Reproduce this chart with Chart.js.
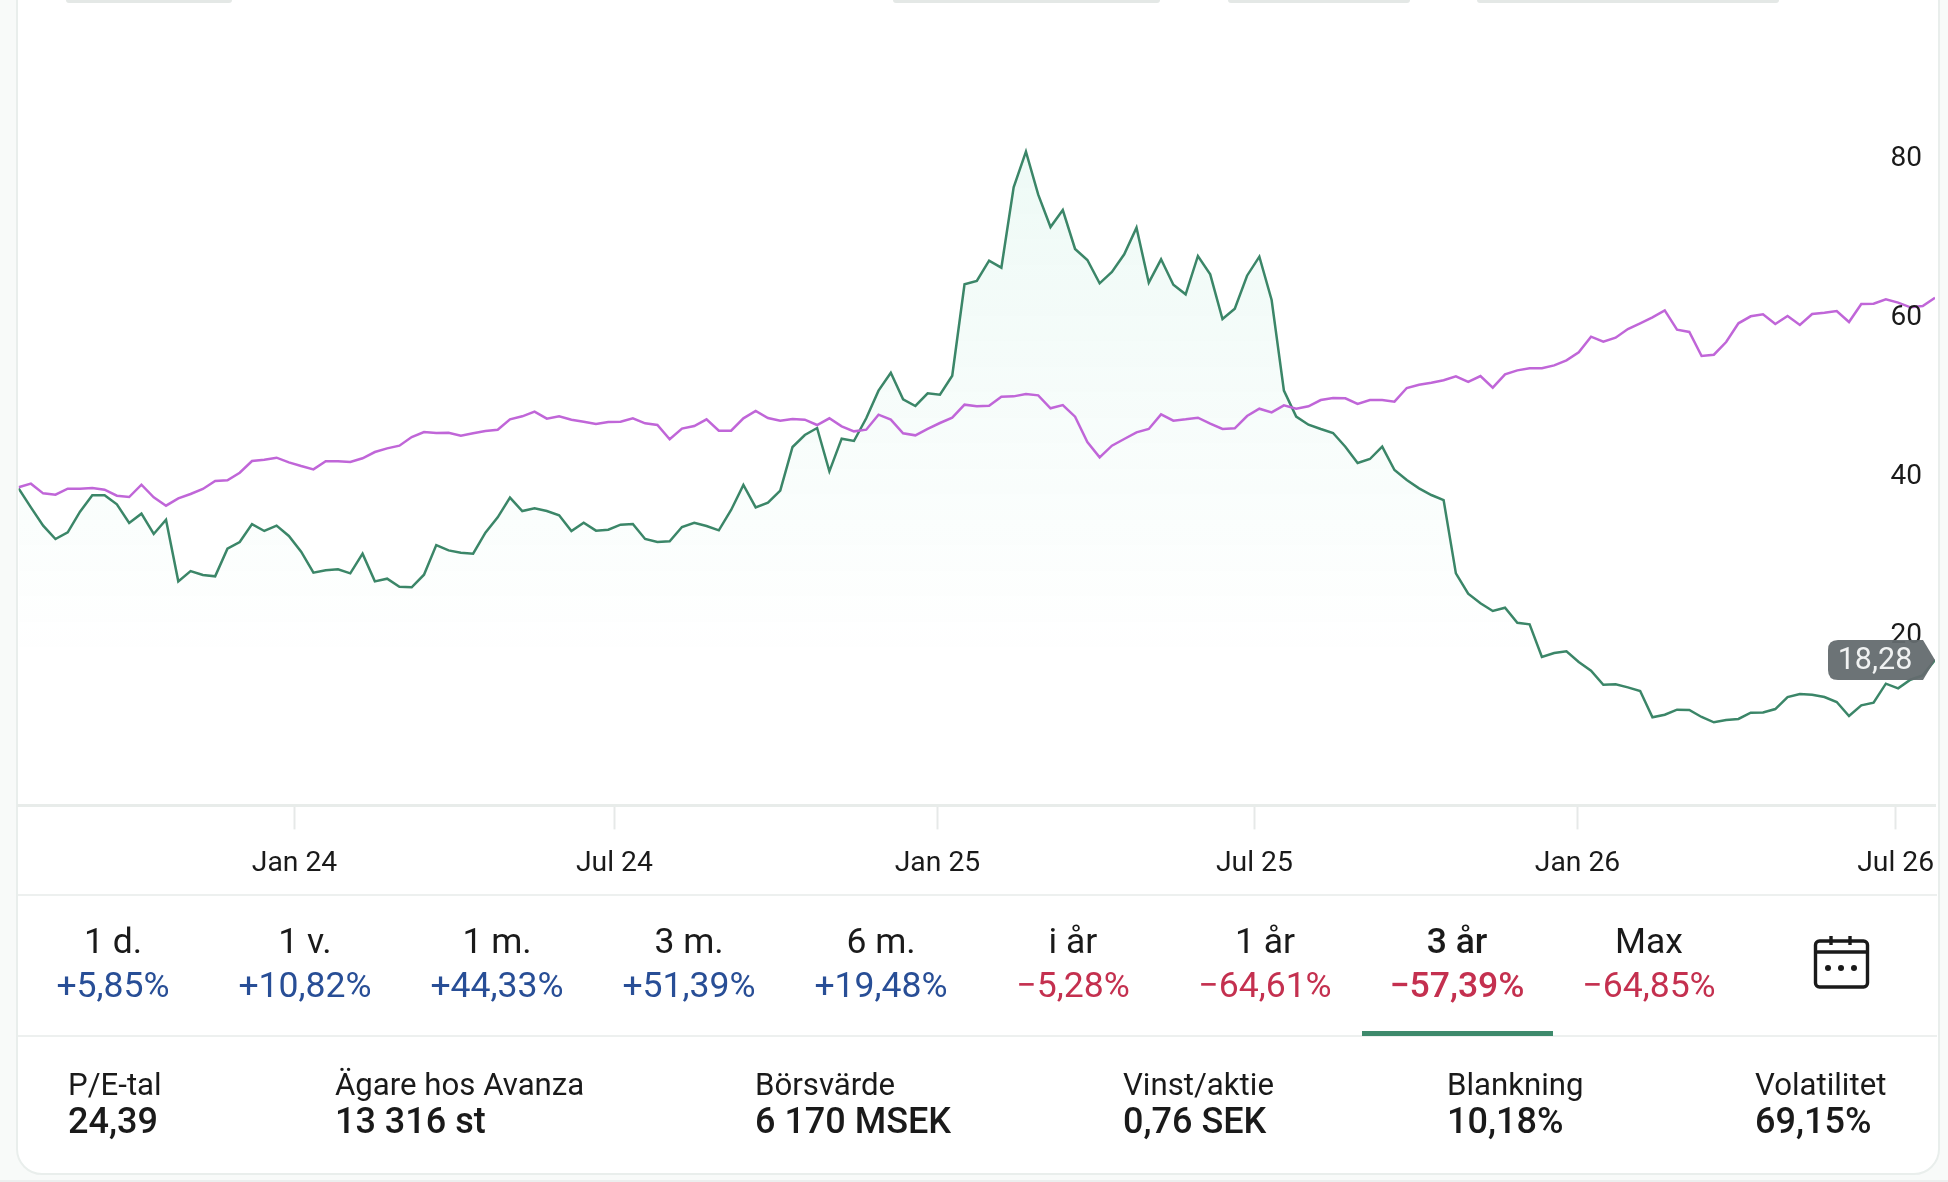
<!DOCTYPE html>
<html>
<head>
<meta charset="utf-8">
<script src="https://cdn.jsdelivr.net/npm/chart.js@4"></script>
<style>
html, body { margin: 0; padding: 0; width: 1948px; height: 1182px; overflow: hidden; background: #f8faf9; font-family: Roboto, sans-serif; color: #1a1a1a; }
#card { position: absolute; left: 16px; top: -40px; width: 1920px; height: 1211px; background: #fff; border: 2px solid #e9eeec; border-radius: 26px; }
#bottomLine { position: absolute; left: 0; top: 1180px; width: 1948px; height: 2px; background: #eceeee; }
#chart { position: absolute; left: 0; top: 0; }
.bump { position: absolute; top: 0; height: 3px; background: #e4e8e6; border-radius: 0 0 5px 5px; }
.rule { position: absolute; left: 18px; width: 1919px; height: 2px; background: #edf0ef; }
#tab { position: absolute; left: 1362px; top: 1031px; width: 191px; height: 5px; background: #3e8a6c; }
.period { position: absolute; top: 916px; width: 192px; text-align: center; }
.period .name { font-size: 35.5px; line-height: 50px; }
.period .chg { font-size: 35.6px; line-height: 38px; }
.period .up { color: #284e96; }
.period .down { color: #c4304f; }
.period.active .name, .period.active .chg { font-weight: 500; }
.stat { position: absolute; top: 1066px; white-space: nowrap; }
.stat .name { font-size: 31.2px; line-height: 38px; }
.stat .val { font-size: 36px; line-height: 34px; font-weight: 500; }
#cal { position: absolute; left: 1812px; top: 933px; }
</style>
</head>
<body>
<div id="card"></div>
<div id="bottomLine"></div>
<div class="bump" style="left:66px;width:166px"></div>
<div class="bump" style="left:893px;width:267px"></div>
<div class="bump" style="left:1228px;width:182px"></div>
<div class="bump" style="left:1477px;width:302px"></div>
<canvas id="chart" width="1948" height="1182"></canvas>
<div class="rule" style="top:894px"></div>
<div class="rule" style="top:1035px"></div>
<div id="tab"></div>
<svg id="cal" width="58" height="58" viewBox="0 0 58 58" fill="none" stroke="#1a1a1a" stroke-width="3.4">
  <rect x="3.5" y="8" width="52" height="46" rx="4"/>
  <path d="M3.5 19H55.5M19 3V12M38 3V12"/>
  <circle cx="16" cy="35" r="3" fill="#1a1a1a" stroke="none"/>
  <circle cx="29" cy="35" r="3" fill="#1a1a1a" stroke="none"/>
  <circle cx="42" cy="35" r="3" fill="#1a1a1a" stroke="none"/>
</svg>
<script>
// weekly closes, 157 weeks
var stockValues = [39.88,37.49,35.19,33.51,34.35,36.95,39.00,39.00,37.87,35.52,36.70,34.14,35.94,28.18,29.48,28.98,28.81,32.29,33.13,35.39,
    34.52,35.19,33.89,31.92,29.27,29.57,29.69,29.19,31.66,28.18,28.52,27.51,27.43,29.02,32.75,32.08,31.79,31.66,34.31,36.23,
    38.71,37.03,37.37,37.03,36.49,34.52,35.56,34.56,34.68,35.31,35.39,33.51,33.13,33.22,35.02,35.56,35.14,34.60,37.16,40.30,
    37.49,38.08,39.59,45.08,46.59,47.47,42.02,46.13,45.84,48.69,52.17,54.43,51.08,50.24,51.83,51.66,54.05,65.54,65.96,68.52,
    67.64,77.74,82.23,76.82,72.75,74.89,69.99,68.60,65.67,67.09,69.32,72.67,65.75,68.69,65.50,64.29,69.11,66.80,61.18,62.48,
    66.63,69.02,63.57,52.17,48.90,47.89,47.34,46.84,45.12,43.07,43.57,45.12,42.19,40.93,39.88,39.04,38.41,29.19,26.63,25.42,
    24.45,24.87,22.98,22.77,18.66,19.17,19.38,18.04,16.95,15.18,15.23,14.85,14.39,11.08,11.41,12.04,12.00,11.12,10.45,10.74,
    10.87,11.66,11.70,12.12,13.63,14.01,13.93,13.63,13.00,11.24,12.58,12.92,15.31,14.72,15.81,16.36,18.28];
var indexValues = [40.01,40.47,39.25,39.09,39.84,39.84,39.92,39.71,38.96,38.79,40.34,38.75,37.70,38.62,39.17,39.80,40.81,40.89,41.85,43.32,
    43.49,43.74,43.15,42.69,42.27,43.28,43.28,43.19,43.66,44.45,44.91,45.25,46.34,46.97,46.84,46.88,46.51,46.80,47.09,47.26,
    48.56,48.94,49.53,48.65,48.94,48.52,48.27,47.98,48.23,48.27,48.69,48.06,47.85,46.05,47.39,47.72,48.56,47.14,47.14,48.69,
    49.61,48.73,48.39,48.60,48.52,47.85,48.69,47.68,47.05,47.26,49.15,48.52,46.80,46.55,47.35,48.10,48.77,50.41,50.20,50.28,
    51.41,51.45,51.75,51.58,49.95,50.36,48.90,45.71,43.78,45.25,46.09,46.93,47.35,49.19,48.39,48.56,48.77,48.02,47.35,47.43,
    48.98,49.90,49.44,50.32,49.90,50.20,50.99,51.24,51.20,50.49,50.99,50.99,50.78,52.50,52.92,53.17,53.47,53.97,53.26,54.01,
    52.54,54.22,54.72,54.98,54.98,55.35,55.98,56.99,58.96,58.33,58.83,59.92,60.64,61.39,62.27,59.84,59.55,56.53,56.69,58.29,
    60.64,61.52,61.77,60.55,61.56,60.43,61.81,61.98,62.19,60.80,63.07,63.11,63.65,63.24,62.65,62.82,63.86];
var xTickWeeks = [22.46, 48.5, 74.8, 100.6, 126.9, 152.8];
var xTickLabels = ["Jan 24", "Jul 24", "Jan 25", "Jul 25", "Jan 26", "Jul 26"];
var yTickValues = [20, 40, 60, 80];
var lastLabel = "18,28";

var periodNames = ["1 d.", "1 v.", "1 m.", "3 m.", "6 m.", "i år", "1 år", "3 år", "Max"];
var periodChanges = ["+5,85%", "+10,82%", "+44,33%", "+51,39%", "+19,48%", "−5,28%", "−64,61%", "−57,39%", "−64,85%"];
var activePeriod = 7;
var statNames = ["P/E-tal", "Ägare hos Avanza", "Börsvärde", "Vinst/aktie", "Blankning", "Volatilitet"];
var statValues = ["24,39", "13 316 st", "6 170 MSEK", "0,76 SEK", "10,18%", "69,15%"];
var statLefts = [68, 335, 755, 1123, 1447, 1755];

periodNames.forEach(function (name, i) {
    var d = document.createElement("div");
    d.className = "period" + (i === activePeriod ? " active" : "");
    d.style.left = (17 + 192 * i) + "px";
    var dir = periodChanges[i].charAt(0) === "+" ? "up" : "down";
    d.innerHTML = '<div class="name">' + name + '</div><div class="chg ' + dir + '">' + periodChanges[i] + '</div>';
    document.body.appendChild(d);
});
statNames.forEach(function (name, i) {
    var d = document.createElement("div");
    d.className = "stat";
    d.style.left = statLefts[i] + "px";
    d.innerHTML = '<div class="name">' + name + '</div><div class="val">' + statValues[i] + '</div>';
    document.body.appendChild(d);
});

function toPoints(values) {
    return values.map(function (v, i) { return { x: i, y: v }; });
}

// grey price tag at the end of the stock line
var priceTag = {
    id: "priceTag",
    afterDraw: function (chart) {
        var ctx = chart.ctx;
        var last = stockValues.length - 1;
        var tipX = chart.scales.x.getPixelForValue(last);
        var midY = chart.scales.y.getPixelForValue(stockValues[last]);
        var left = tipX - 107, right = tipX - 12, top = midY - 20, bottom = midY + 20, r = 10;
        ctx.save();
        ctx.fillStyle = "rgba(100,107,111,0.95)";
        ctx.beginPath();
        ctx.moveTo(left + r, top);
        ctx.lineTo(right, top);
        ctx.lineTo(tipX, midY);
        ctx.lineTo(right, bottom);
        ctx.lineTo(left + r, bottom);
        ctx.quadraticCurveTo(left, bottom, left, bottom - r);
        ctx.lineTo(left, top + r);
        ctx.quadraticCurveTo(left, top, left + r, top);
        ctx.closePath();
        ctx.fill();
        ctx.fillStyle = "#f0f2f2";
        ctx.font = "30.5px Roboto";
        ctx.textAlign = "center";
        ctx.textBaseline = "middle";
        ctx.fillText(lastLabel, tipX - 60, midY + 1);
        ctx.restore();
    }
};

var ctx = document.getElementById("chart").getContext("2d");
new Chart(ctx, {
    type: "line",
    data: {
        datasets: [
            {
                label: "Index",
                data: toPoints(indexValues),
                borderColor: "#c066d8",
                borderWidth: 2.5,
                pointRadius: 0,
                tension: 0,
                fill: false,
                order: 1
            },
            {
                label: "Aktie",
                data: toPoints(stockValues),
                borderColor: "#3b8668",
                borderWidth: 2.5,
                pointRadius: 0,
                tension: 0,
                fill: "origin",
                order: 2,
                backgroundColor: function (c) {
                    var g = c.chart.ctx.createLinearGradient(0, 150, 0, 660);
                    g.addColorStop(0, "rgba(40,190,140,0.08)");
                    g.addColorStop(1, "rgba(40,190,140,0)");
                    return g;
                }
            }
        ]
    },
    options: {
        responsive: false,
        animation: false,
        devicePixelRatio: 1,
        layout: { padding: { left: 18.6, top: 10.4, right: 13, bottom: 0 } },
        plugins: { legend: { display: false }, tooltip: { enabled: false } },
        scales: {
            x: {
                type: "linear",
                min: 0,
                max: stockValues.length - 1,
                afterBuildTicks: function (scale) {
                    scale.ticks = xTickWeeks.map(function (v) { return { value: v }; });
                },
                afterFit: function (scale) {
                    scale.height = 1182 - 805.4;
                    scale.paddingLeft = 0;
                    scale.paddingRight = 0;
                },
                grid: { drawOnChartArea: false, tickLength: 24, tickColor: "#e6e9e8", tickWidth: 2 },
                border: { color: "#e8ecea", width: 3 },
                ticks: {
                    autoSkip: false,
                    maxRotation: 0,
                    padding: 18,
                    color: "#1a1a1a",
                    font: { family: "Roboto", size: 28.3 },
                    callback: function (v, i) { return xTickLabels[i]; }
                }
            },
            y: {
                position: "right",
                min: 0,
                max: 100,
                afterBuildTicks: function (scale) {
                    scale.ticks = yTickValues.map(function (v) { return { value: v }; });
                },
                afterFit: function (scale) {
                    scale.width = 0;
                    scale.paddingTop = 0;
                    scale.paddingBottom = 0;
                },
                grid: { display: false },
                border: { display: false },
                ticks: {
                    mirror: true,
                    z: 1,
                    padding: -13,
                    labelOffset: -10.5,
                    color: "#1a1a1a",
                    font: { family: "Roboto", size: 28 }
                }
            }
        }
    },
    plugins: [priceTag]
});
</script>
</body>
</html>
